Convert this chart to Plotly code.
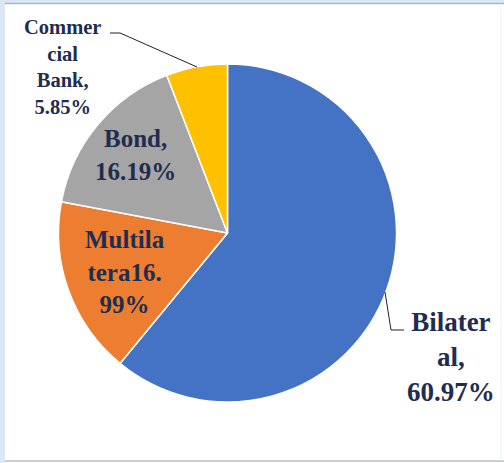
import plotly.graph_objects as go

# Debt composition by creditor type
categories = ["Bilateral", "Multilateral", "Bond", "Commercial Bank"]
shares = [60.97, 16.99, 16.19, 5.85]
label_lines = [
    ["Bilater", "al,", "60.97%"],
    ["Multila", "tera16.", "99%"],
    ["Bond,", "16.19%"],
    ["Commer", "cial", "Bank,", "5.85%"],
]
colors = ["#4472C4", "#ED7D31", "#A5A5A5", "#FFC000"]

W, H = 504, 463
cx, cy, r = 227.5, 233.0, 169.0

def px(x):
    return x / W

def py(y):
    return 1 - y / H

fig = go.Figure(
    go.Pie(
        labels=categories,
        values=shares,
        sort=False,
        direction="clockwise",
        rotation=0,
        marker=dict(colors=colors, line=dict(color="white", width=1.5)),
        textinfo="none",
        hoverinfo="label+percent",
        showlegend=False,
        domain=dict(x=[px(cx - r), px(cx + r)], y=[py(cy + r), py(cy - r)]),
    )
)

text_color = "#1F2D50"
font_family = "Liberation Serif, Times New Roman, serif"

def add_label(lines, x, y, size):
    fig.add_annotation(
        x=px(x), y=py(y), xref="paper", yref="paper",
        xanchor="center", yanchor="middle",
        text="<br>".join(f"<b>{s}</b>" for s in lines),
        showarrow=False, align="center",
        font=dict(family=font_family, size=size, color=text_color),
    )

add_label(label_lines[0], 451, 357, 27)
add_label(label_lines[1], 125, 272, 25)
add_label(label_lines[2], 135, 155, 25)
add_label(label_lines[3], 62, 67, 20.5)

shapes = [
    # outer frame
    dict(type="rect", xref="paper", yref="paper", x0=0, x1=px(5), y0=0, y1=1,
         fillcolor="#DCE7F5", line=dict(width=0), layer="below"),
    dict(type="rect", xref="paper", yref="paper", x0=0, x1=1, y0=py(3), y1=1,
         fillcolor="#DCE7F5", line=dict(width=0), layer="below"),
    dict(type="line", xref="paper", yref="paper", x0=px(5), x1=1, y0=py(3.5), y1=py(3.5),
         line=dict(color="#A9B4C2", width=1.5)),
    dict(type="line", xref="paper", yref="paper", x0=px(5), x1=1, y0=py(461), y1=py(461),
         line=dict(color="#B8BEC6", width=1.5)),
    dict(type="line", xref="paper", yref="paper", x0=px(501), x1=px(501), y0=py(461), y1=py(3.5),
         line=dict(color="#EEF1F4", width=1)),
    # leader lines
    dict(type="path", xref="paper", yref="paper",
         path=f"M {px(385)},{py(292)} L {px(391)},{py(330)} L {px(404)},{py(330)}",
         line=dict(color="#222222", width=1)),
    dict(type="path", xref="paper", yref="paper",
         path=f"M {px(110)},{py(33)} L {px(120)},{py(33)} L {px(197)},{py(67)}",
         line=dict(color="#222222", width=1)),
]

fig.update_layout(
    width=W, height=H,
    margin=dict(l=0, r=0, t=0, b=0),
    paper_bgcolor="white",
    plot_bgcolor="white",
    shapes=shapes,
)

fig.write_html("out.html")
